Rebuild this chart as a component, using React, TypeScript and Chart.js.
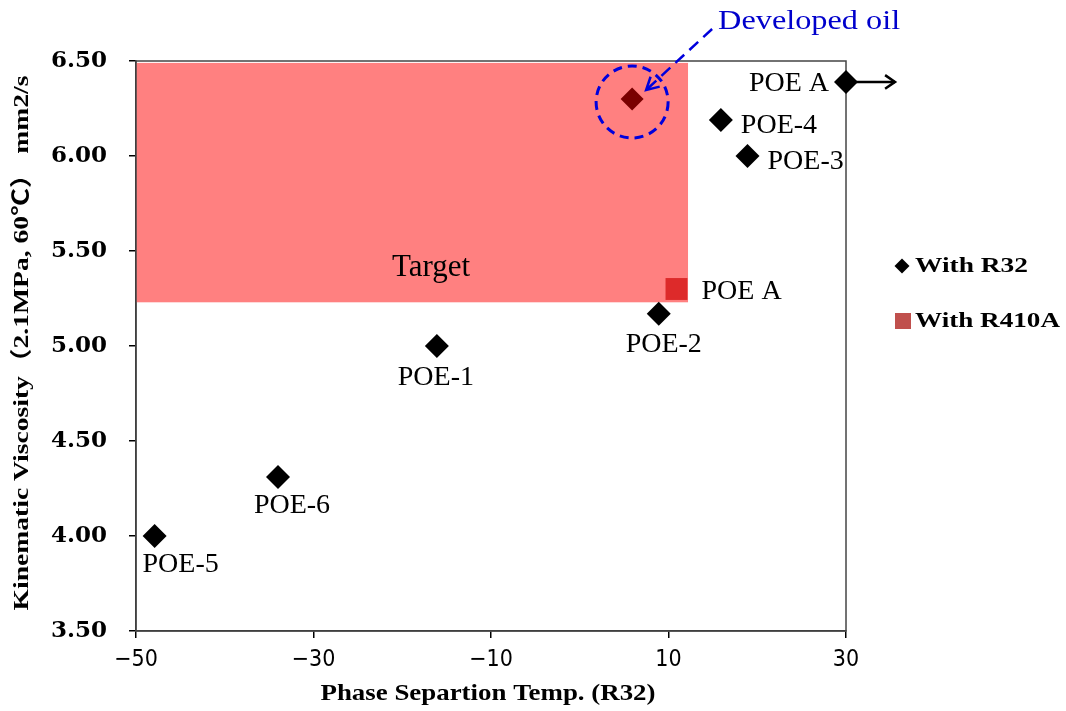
import { useEffect, useRef } from 'react';
import { Chart, registerables } from 'chart.js';

Chart.register(...registerables);

// ---- data ----
const r32Labels = ['POE-5', 'POE-6', 'POE-1', 'POE-2', 'POE-4', 'POE-3', 'POE A'];
const r32X = [-47.9, -34.0, -16.1, 8.9, 15.9, 18.9, 30];
const r32Y = [4.0, 4.31, 5.0, 5.17, 6.19, 6.0, 6.39];

const r410aLabels = ['POE A'];
const r410aX = [10.9];
const r410aY = [5.3];

const devLabel = 'Developed oil';
const devX = [5.9];
const devY = [6.3];

const targetLabel = 'Target';
const targetX = [-50, 12.2];
const targetY = [5.23, 6.49];

const xTicks = [-50, -30, -10, 10, 30];
const yTicks = [3.5, 4.0, 4.5, 5.0, 5.5, 6.0, 6.5];

const xTitle = 'Phase Separtion Temp. (R32)';
const yTitle = 'Kinematic Viscosity（2.1MPa, 60℃） mm2/s';
const legendLabels = ['With R32', 'With R410A'];

// ---- label placement (pixel offsets from point) ----
const r32LabelPlace: [number, number, CanvasTextAlign][] = [
  [26, 29, 'center'],
  [14, 29, 'center'],
  [-1, 32, 'center'],
  [5, 31, 'center'],
  [20, 6, 'left'],
  [20, 6, 'left'],
  [-17, 2, 'right'],
];
const r410aLabelPlace: [number, number, CanvasTextAlign][] = [[25, 3, 'left']];

const SERIF = '"Liberation Serif", "Times New Roman", "Noto Sans CJK SC", serif';
const NARROW = '"Liberation Sans Narrow", "Arial Narrow", "DejaVu Sans Condensed", sans-serif';

function drawText(
  ctx: CanvasRenderingContext2D,
  s: string,
  x: number,
  y: number,
  font: string,
  color: string,
  align: CanvasTextAlign,
  targetW?: number
) {
  ctx.save();
  ctx.font = font;
  ctx.fillStyle = color;
  ctx.textBaseline = 'middle';
  ctx.textAlign = 'left';
  const w = ctx.measureText(s).width;
  const sx = targetW ? targetW / w : 1;
  const left = align === 'left' ? x : align === 'right' ? x - w * sx : x - (w * sx) / 2;
  ctx.translate(left, y);
  ctx.scale(sx, 1);
  ctx.fillText(s, 0, 0);
  ctx.restore();
}

function openHead(ctx: CanvasRenderingContext2D, fx: number, fy: number, tx: number, ty: number, len: number, ang: number) {
  const a = Math.atan2(ty - fy, tx - fx);
  ctx.beginPath();
  ctx.moveTo(tx - len * Math.cos(a - ang), ty - len * Math.sin(a - ang));
  ctx.lineTo(tx, ty);
  ctx.lineTo(tx - len * Math.cos(a + ang), ty - len * Math.sin(a + ang));
  ctx.stroke();
}

const annotations = {
  id: 'annotations',
  beforeDatasetsDraw(chart: any) {
    const { ctx, scales, chartArea } = chart;
    const x = scales.x;
    const y = scales.y;
    const x0 = x.getPixelForValue(targetX[0]);
    const x1 = x.getPixelForValue(targetX[1]);
    const y0 = y.getPixelForValue(targetY[1]);
    const y1 = y.getPixelForValue(targetY[0]);
    ctx.save();
    ctx.fillStyle = '#FF8080';
    ctx.fillRect(x0, y0, x1 - x0, y1 - y0);
    ctx.restore();
    drawText(ctx, targetLabel, (x0 + x1) / 2 + 19, y1 - 34, `31px ${SERIF}`, '#000', 'center');

    // frame
    ctx.save();
    ctx.strokeStyle = '#444';
    ctx.lineWidth = 1.5;
    ctx.strokeRect(chartArea.left, chartArea.top, chartArea.right - chartArea.left, chartArea.bottom - chartArea.top);
    ctx.restore();
  },
  afterDatasetsDraw(chart: any) {
    const { ctx, scales } = chart;
    const x = scales.x;
    const y = scales.y;

    // point labels
    r32Labels.forEach((lab, i) => {
      const px = x.getPixelForValue(r32X[i]);
      const py = y.getPixelForValue(r32Y[i]);
      const [dx, dy, al] = r32LabelPlace[i];
      drawText(ctx, lab, px + dx, py + dy, `28px ${SERIF}`, '#000', al);
    });
    r410aLabels.forEach((lab, i) => {
      const px = x.getPixelForValue(r410aX[i]);
      const py = y.getPixelForValue(r410aY[i]);
      const [dx, dy, al] = r410aLabelPlace[i];
      drawText(ctx, lab, px + dx, py + dy, `28px ${SERIF}`, '#000', al);
    });

    // black arrow to the right of POE A (R32)
    const ax = x.getPixelForValue(r32X[6]);
    const ay = y.getPixelForValue(r32Y[6]);
    ctx.save();
    ctx.strokeStyle = '#000';
    ctx.lineWidth = 2.5;
    ctx.beginPath();
    ctx.moveTo(ax + 10, ay);
    ctx.lineTo(ax + 49, ay);
    ctx.stroke();
    openHead(ctx, ax + 10, ay, ax + 49, ay, 12, 0.6);
    ctx.restore();

    // developed oil annotation
    const dx = x.getPixelForValue(devX[0]);
    const dy = y.getPixelForValue(devY[0]);
    ctx.save();
    ctx.strokeStyle = '#0000DD';
    ctx.lineWidth = 3;
    ctx.setLineDash([9, 6]);
    ctx.beginPath();
    ctx.arc(dx, dy + 3, 36, 0, Math.PI * 2);
    ctx.stroke();
    ctx.lineWidth = 2.5;
    ctx.setLineDash([12, 7]);
    ctx.beginPath();
    ctx.moveTo(dx + 80, dy - 70);
    ctx.lineTo(dx + 14, dy - 9);
    ctx.stroke();
    ctx.setLineDash([]);
    openHead(ctx, dx + 80, dy - 70, dx + 14, dy - 9, 14, 0.5);
    ctx.restore();
    drawText(ctx, devLabel, dx + 86, dy - 77, `27px ${SERIF}`, '#0000CC', 'left', 182);

    // legend
    ctx.save();
    ctx.fillStyle = '#000';
    ctx.beginPath();
    ctx.moveTo(902, 258.5);
    ctx.lineTo(909.5, 266);
    ctx.lineTo(902, 273.5);
    ctx.lineTo(894.5, 266);
    ctx.closePath();
    ctx.fill();
    ctx.fillStyle = '#C0504D';
    ctx.fillRect(895, 313, 16, 16);
    ctx.restore();
    drawText(ctx, legendLabels[0], 915, 266, `bold 22px ${SERIF}`, '#000', 'left', 113);
    drawText(ctx, legendLabels[1], 915, 321, `bold 22px ${SERIF}`, '#000', 'left', 145);

    // axis titles
    drawText(ctx, xTitle, 488, 694, `bold 24px ${SERIF}`, '#000', 'center', 335);
    ctx.save();
    ctx.translate(22, 343);
    ctx.rotate(-Math.PI / 2);
    drawText(ctx, yTitle, 0, 0, `bold 22px ${SERIF}`, '#000', 'center', 535);
    ctx.restore();
  },
};

export default function App() {
  const ref = useRef<HTMLCanvasElement>(null);
  useEffect(() => {
    const chart = new Chart(ref.current as HTMLCanvasElement, {
      type: 'scatter',
      data: {
        datasets: [
          {
            label: legendLabels[0],
            data: r32X.map((v, i) => ({ x: v, y: r32Y[i] })),
            pointStyle: 'rectRot',
            pointRadius: 12,
            pointHoverRadius: 12,
            backgroundColor: '#000',
            borderColor: '#000',
            borderWidth: 0,
            clip: false,
          },
          {
            label: devLabel,
            data: devX.map((v, i) => ({ x: v, y: devY[i] })),
            pointStyle: 'rectRot',
            pointRadius: 11.5,
            pointHoverRadius: 11.5,
            backgroundColor: '#7A0000',
            borderColor: '#7A0000',
            borderWidth: 0,
            clip: false,
          },
          {
            label: legendLabels[1],
            data: r410aX.map((v, i) => ({ x: v, y: r410aY[i] })),
            pointStyle: 'rect',
            pointRadius: 15.5,
            pointHoverRadius: 15.5,
            backgroundColor: '#DD2A2A',
            borderColor: '#DD2A2A',
            borderWidth: 0,
            clip: false,
          },
        ],
      } as any,
      options: {
        animation: false,
        responsive: false,
        maintainAspectRatio: false,
        layout: { padding: { top: 61, right: 220, left: 0, bottom: 0 } },
        plugins: {
          legend: { display: false },
          tooltip: { enabled: false },
        },
        scales: {
          x: {
            type: 'linear',
            min: -50,
            max: 30,
            afterBuildTicks: (s: any) => {
              s.ticks = xTicks.map((v) => ({ value: v }));
            },
            afterFit: (s: any) => {
              s.height = 80;
            },
            ticks: {
              autoSkip: false,
              maxRotation: 0,
              padding: 8,
              color: '#000',
              font: { family: NARROW, size: 23 },
              callback: (v: any) => (Number(v) < 0 ? '−' + Math.abs(Number(v)) : String(v)),
            },
            grid: { drawOnChartArea: false, drawTicks: true, tickLength: 7, color: '#000', lineWidth: 1.5 },
            border: { display: true, color: '#333', width: 1.5 },
          },
          y: {
            type: 'linear',
            min: 3.5,
            max: 6.5,
            afterBuildTicks: (s: any) => {
              s.ticks = yTicks.map((v) => ({ value: v }));
            },
            afterFit: (s: any) => {
              s.width = 136;
            },
            ticks: {
              autoSkip: false,
              padding: 22,
              color: '#000',
              font: { family: '"DejaVu Serif", serif', size: 23, weight: 'bold' },
              callback: (v: any) => Number(v).toFixed(2),
            },
            grid: { drawOnChartArea: false, drawTicks: true, tickLength: 7, color: '#000', lineWidth: 1.5 },
            border: { display: true, color: '#333', width: 1.5 },
          },
        },
      } as any,
      plugins: [annotations],
    });
    return () => chart.destroy();
  }, []);
  return (
    <div style={{ position: 'fixed', left: 0, top: 0, width: 1066, height: 711, background: '#fff' }}>
      <canvas ref={ref} width={1066} height={711} style={{ display: 'block' }} />
    </div>
  );
}
